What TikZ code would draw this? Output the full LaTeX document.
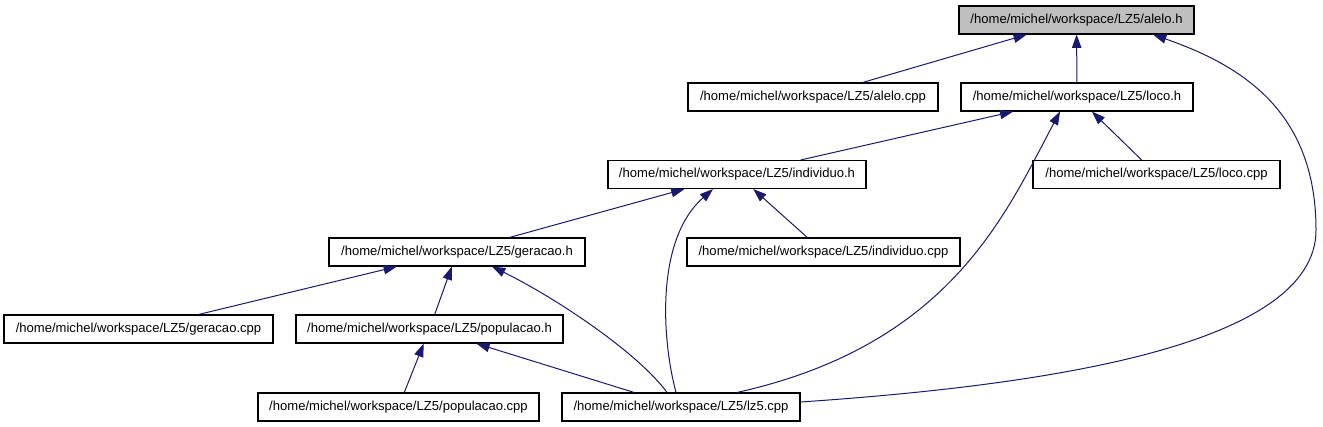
\documentclass[tikz,border=0pt]{standalone}
\usepackage{fontspec}
\setmainfont{Liberation Sans}
\usetikzlibrary{arrows.meta,calc}
\definecolor{edgeblue}{HTML}{191970}
\definecolor{rootfill}{HTML}{BFBFBF}
\begin{document}
\begin{tikzpicture}[x=0.75pt,y=-0.75pt,
  file/.style={draw=black,line width=0.8pt,minimum height=21pt,inner sep=0pt,
    font=\fontsize{9.8}{12}\selectfont,anchor=center},
  root/.style={file,fill=rootfill},
  edge/.style={draw=edgeblue,line width=0.75pt,-{Triangle[length=10pt,width=7pt]}}]
\useasboundingbox (0,0) rectangle (1323,427);
\node[root,minimum width=176.25pt] (aleloh) at (1076.5,20) {/home/michel/workspace/LZ5/alelo.h};
\node[file,minimum width=187.5pt] (alelocpp) at (813,97) {/home/michel/workspace/LZ5/alelo.cpp};
\node[file,minimum width=174pt] (locoh) at (1077,97) {/home/michel/workspace/LZ5/loco.h};
\node[file,minimum width=193.5pt] (individuoh) at (737,174.5) {/home/michel/workspace/LZ5/individuo.h};
\node[file,minimum width=185.25pt] (lococpp) at (1156.5,174.5) {/home/michel/workspace/LZ5/loco.cpp};
\node[file,minimum width=192pt] (geracaoh) at (457,252) {/home/michel/workspace/LZ5/geracao.h};
\node[file,minimum width=204.75pt] (individuocpp) at (823.5,252) {/home/michel/workspace/LZ5/individuo.cpp};
\node[file,minimum width=201.75pt] (geracaocpp) at (138.5,329) {/home/michel/workspace/LZ5/geracao.cpp};
\node[file,minimum width=200.25pt] (populacaoh) at (429.5,329) {/home/michel/workspace/LZ5/populacao.h};
\node[file,minimum width=210.75pt] (populacaocpp) at (398.5,407) {/home/michel/workspace/LZ5/populacao.cpp};
\node[file,minimum width=178.5pt] (lz5) at (681,407) {/home/michel/workspace/LZ5/lz5.cpp};
\coordinate (bend) at (1316,230);

\draw[edge] (alelocpp) -- (aleloh);
\draw[edge] (locoh) -- (aleloh);
\draw[edge] (individuoh) -- (locoh);
\draw[edge] (lococpp) -- (locoh);
\draw[edge] (geracaoh) -- (individuoh);
\draw[edge] (individuocpp) -- (individuoh);
\draw[edge] (geracaocpp) -- (geracaoh);
\draw[edge] (populacaoh) -- (geracaoh);
\draw[edge] (populacaocpp) -- (populacaoh);
\draw[edge] (lz5) -- (populacaoh);
\draw[edge] ($(lz5.north)+(-14,0)$) .. controls (640,355) and (560,300) .. ($(geracaoh.south)+(35,0)$);
\draw[edge] ($(lz5.north)+(-5,0)$) .. controls (662,340) and (655,240) .. ($(individuoh.south)+(-24,0)$);
\draw[edge] ($(lz5.north)+(56,0)$) .. controls (950,345) and (1005,215) .. ($(locoh.south)+(-17,0)$);
\draw[edge] ($(lz5.east)+(0,-5)$) .. controls (1050,385) and (1316,345) .. (bend)
  .. controls (1316,110) and (1240,65) .. ($(aleloh.south)+(76.5,0)$);
\end{tikzpicture}
\end{document}
